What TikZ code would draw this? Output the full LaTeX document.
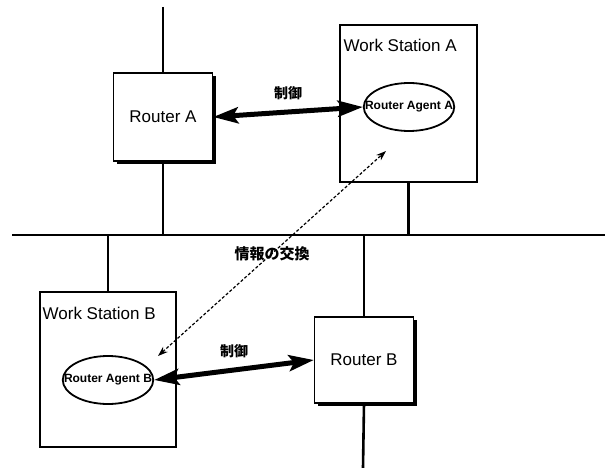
\documentclass[tikz,border=0pt]{standalone}
\usepackage{fontspec}
\setmainfont{Liberation Sans}
\newfontfamily\jp{Noto Sans CJK JP}
\usetikzlibrary{positioning, arrows.meta, shapes.geometric, shadows}

\begin{document}
\begin{tikzpicture}[x=1pt, y=-1pt, line width=1.3pt,
  router/.style={rectangle, draw=black, fill=white, minimum width=99pt, minimum height=88pt,
    inner sep=0pt, font=\fontsize{17}{20}\selectfont,
    drop shadow={shadow xshift=3pt, shadow yshift=-3pt, fill=black, opacity=1}},
  station/.style={rectangle, draw=black, fill=white, inner sep=0pt},
  agent/.style={ellipse, draw=black, line width=1.8pt, fill=white, inner xsep=-12pt, inner ysep=0pt,
    minimum width=90pt, minimum height=48pt, font=\bfseries\fontsize{12}{14}\selectfont},
  wslabel/.style={anchor=base west, inner sep=0pt, font=\fontsize{17}{20}\selectfont},
  jplabel/.style={font=\jp\bfseries\fontsize{14}{16}\selectfont},
  wire/.style={line width=2.6pt},
  ctrl/.style={line width=5pt, {Stealth[length=25pt, width=16pt, inset=5pt]}-{Stealth[length=25pt, width=16pt, inset=5pt]}},
  xchg/.style={line width=1.2pt, densely dashed, {Stealth[length=10pt, width=7pt]}-{Stealth[length=10pt, width=7pt]}}]
\useasboundingbox (0,0) rectangle (605,468);
% network
\coordinate (busL) at (12,235);
\coordinate (busR) at (605,235);
\coordinate (rAtop) at (163,7);
\coordinate (rBbot) at (363,468);
\draw[wire] (busL) -- (busR);
% (a) upper side
\node[router] (rA) at (163,117) {Router A};
\node[station, minimum width=137pt, minimum height=157pt] (wsA) at (408.5,103.5) {};
\node[wslabel] (wsAtxt) at (343,52) {Work Station A};
\node[agent] (agA) at (409,107) {Router Agent A};
\draw[wire] (rAtop) -- (rA.north);
\draw[wire] (rA.south) -- (rA.south |- busL);
\draw[wire] (wsA.south) -- (wsA.south |- busL);
\draw[ctrl] (rA.east) -- node[jplabel, above=6pt] (ctrlA) {制御} (agA.west);
% (b) lower side
\node[station, minimum width=136pt, minimum height=155pt] (wsB) at (108,369.5) {};
\node[wslabel] (wsBtxt) at (42,319) {Work Station B};
\node[agent] (agB) at (108,380) {Router Agent B};
\node[router, minimum height=86pt] (rB) at (364,360) {Router B};
\draw[wire] (wsB.north) -- (wsB.north |- busL);
\draw[wire] (rB.north) -- (rB.north |- busL);
\draw[wire] (rB.south) -- (rBbot);
\draw[ctrl] (agB.east) -- node[jplabel, above=6pt] (ctrlB) {制御} (rB.west);
% exchange between the agents
\coordinate (xB) at (158,356);
\coordinate (xA) at (386,151);
\draw[xchg] (xB) -- node[jplabel, pos=0.5, font=\jp\bfseries\fontsize{15}{17}\selectfont] (info) {情報の交換} (xA);
\end{tikzpicture}
\end{document}
